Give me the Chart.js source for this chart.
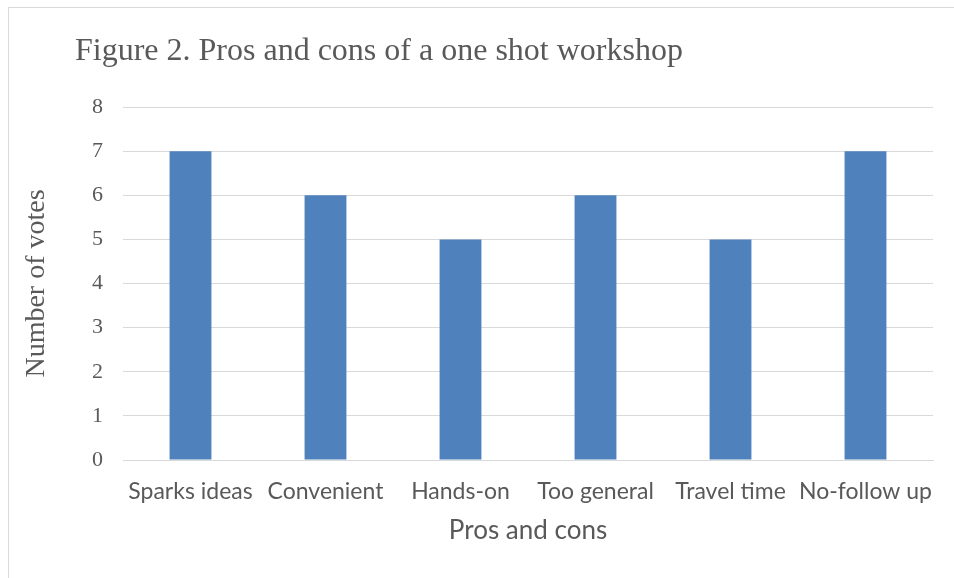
<!DOCTYPE html>
<html>
<head>
<meta charset="utf-8">
<script src="https://cdn.jsdelivr.net/npm/chart.js@4.4.0/dist/chart.umd.min.js"></script>
<style>
  html, body { margin: 0; padding: 0; background: #fff; }
  #wrap { position: relative; width: 954px; height: 578px; overflow: hidden; }
  #frame { position: absolute; left: 8px; top: 7px; width: 1000px; height: 700px;
           border: 1px solid #d9d9d9; box-sizing: border-box; }
  #title { position: absolute; left: 75px; top: 31px; margin: 0;
           font: 32px "Liberation Serif", serif; color: #595959; white-space: nowrap; }
  canvas { position: absolute; left: 0; top: 0; }
</style>
</head>
<body>
<div id="wrap">
  <div id="frame"></div>
  <canvas id="chart" width="954" height="578"></canvas>
  <h1 id="title">Figure 2. Pros and cons of a one shot workshop</h1>
</div>
<script>
const categories = ['Sparks ideas', 'Convenient', 'Hands-on', 'Too general', 'Travel time', 'No-follow up'];
const votes = [7, 6, 5, 6, 5, 7];
const yTicks = [0, 1, 2, 3, 4, 5, 6, 7, 8];

const gray = '#595959';
const gridColor = '#d9d9d9';

const ctx = document.getElementById('chart');
const chart = new Chart(ctx, {
  type: 'bar',
  data: {
    labels: categories,
    datasets: [
      {
        label: 'Number of votes',
        data: votes,
        backgroundColor: '#4f81bd',
        categoryPercentage: 1,
        barPercentage: 0.31
      }
    ]
  },
  options: {
    responsive: false,
    animation: false,
    layout: {
      padding: { left: 20, right: 21, top: 107, bottom: 32 }
    },
    plugins: {
      legend: { display: false },
      tooltip: { enabled: false }
    },
    scales: {
      x: {
        grid: { display: false },
        border: { display: true, color: gridColor, width: 1 },
        ticks: {
          color: gray,
          padding: 10,
          maxRotation: 0,
          autoSkip: false,
          font: { family: 'Lato', size: 23 }
        },
        title: {
          display: true,
          text: 'Pros and cons',
          color: gray,
          padding: 0,
          font: { family: 'Lato', size: 26 }
        },
        afterFit: function (scale) {
          scale.height = 86;
        }
      },
      y: {
        min: 0,
        max: 8,
        afterBuildTicks: function (scale) {
          scale.ticks = yTicks.map(v => ({ value: v }));
        },
        grid: { color: gridColor, lineWidth: 1, drawTicks: false },
        border: { display: false },
        ticks: {
          color: gray,
          padding: 20,
          font: { family: 'Liberation Serif', size: 22 }
        },
        title: {
          display: true,
          text: 'Number of votes',
          color: gray,
          padding: 0,
          font: { family: 'Liberation Serif', size: 28 }
        },
        afterFit: function (scale) {
          scale.width = 103;
        }
      }
    }
  }
});
</script>
</body>
</html>
